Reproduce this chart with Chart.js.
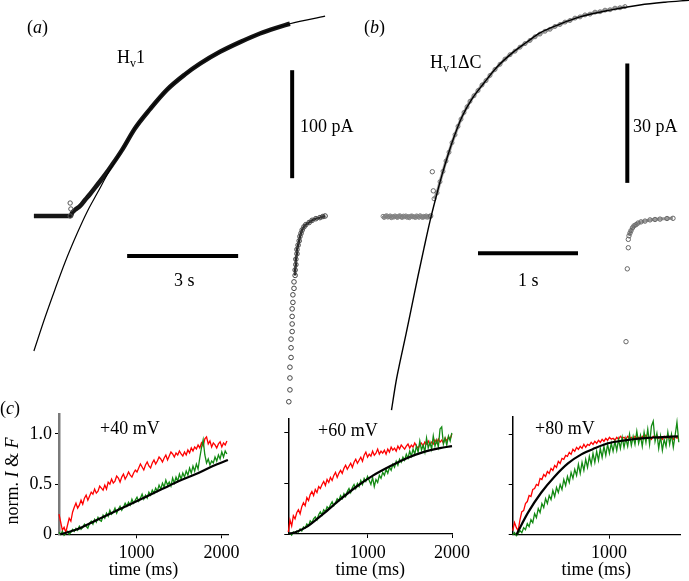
<!DOCTYPE html>
<html>
<head>
<meta charset="utf-8">
<script src="https://cdn.jsdelivr.net/npm/chart.js@4.4.0/dist/chart.umd.min.js"></script>
<style>
  html, body { margin: 0; padding: 0; background: #fff; }
  #page { position: relative; width: 689px; height: 581px; overflow: hidden; font-family: "Liberation Serif", "Times New Roman", serif; color: #000; }
  canvas { position: absolute; }
  .lbl { position: absolute; font-size: 18px; line-height: 18px; white-space: nowrap; }
  .sub { font-size: 12px; position: relative; top: 4px; }
</style>
</head>
<body>
<div id="page">
  <canvas id="chartA" width="340" height="420" style="left:0;top:0"></canvas>
  <canvas id="chartB" width="349" height="420" style="left:340px;top:0"></canvas>
  <canvas id="chartC1" width="250" height="181" style="left:0;top:400px"></canvas>
  <canvas id="chartC2" width="240" height="181" style="left:240px;top:400px"></canvas>
  <canvas id="chartC3" width="229" height="181" style="left:460px;top:400px"></canvas>

  <div class="lbl" style="left:27px;top:18px">(<i>a</i>)</div>
  <div class="lbl" style="left:117px;top:48px">H<span class="sub">v</span>1</div>
  <div class="lbl" style="left:300px;top:117px">100 pA</div>
  <div class="lbl" style="left:174px;top:271px">3 s</div>

  <div class="lbl" style="left:364px;top:18px">(<i>b</i>)</div>
  <div class="lbl" style="left:430px;top:53px">H<span class="sub">v</span>1ΔC</div>
  <div class="lbl" style="left:633px;top:117px">30 pA</div>
  <div class="lbl" style="left:518px;top:271px">1 s</div>

  <div class="lbl" style="left:0;top:399px">(<i>c</i>)</div>
  <div class="lbl" style="left:100px;top:419px">+40 mV</div>
  <div class="lbl" style="left:318px;top:421px">+60 mV</div>
  <div class="lbl" style="left:535px;top:419px">+80 mV</div>
  <div class="lbl" style="left:-32px;top:472px;width:88px;text-align:center;transform:rotate(-90deg)">norm. <i>I</i> &amp; <i>F</i></div>
</div>

<script>
// ---- panel (a): Hv1, time in s, current in pA ----
const fitA_t  = [-1.03, -0.73, -0.46, -0.19, 0.14, 0.41, 0.68, 1.03, 1.35, 1.70, 2.11, 2.57, 3.05, 3.46, 4.00, 4.54, 5.08, 5.89, 6.84];
const fitA_pA = [-125, -94, -68, -43, -16, 4, 21, 43, 61, 81, 99, 117, 131, 141, 152, 161, 169, 178, 185];

const traceA_t  = [-1.03, -0.50, -0.03, 0.00, 0.08, 0.22, 0.35, 0.49, 0.68, 0.89, 1.08, 1.35, 1.70, 2.11, 2.57, 3.05, 3.46, 4.00, 4.54, 5.08, 5.50, 5.89];
const traceA_pA = [0, 0, 0, 2.8, 5.6, 9.3, 14.8, 20.4, 28.7, 38.0, 47.2, 61, 81, 99, 117, 131, 141, 152, 161, 169, 174, 178];

const onsetA_t  = [-0.05, -0.03, -0.05];
const onsetA_pA = [12, 6.5, 0];

const tailA_t  = [5.86, 5.89, 5.89, 5.89, 5.92, 5.92, 5.92, 5.95, 5.95, 5.95, 5.95, 5.97, 5.97, 6.00, 6.00, 6.03, 6.03, 6.05, 6.05, 6.08, 6.08, 6.11, 6.14, 6.16, 6.19, 6.22, 6.27, 6.32, 6.41, 6.49, 6.59, 6.70, 6.78, 6.84];
const tailA_pA = [-172, -161, -150, -140, -131, -122, -114, -107, -100, -93, -86, -80, -73, -67, -61, -55, -50, -45, -40, -35, -31, -27, -23, -19, -16, -13, -10, -8, -6, -4, -2.5, -1.5, -0.5, 0];

const barA_v_t = [5.95, 5.95], barA_v_pA = [35, 135];     // 100 pA
const barA_h_t = [1.49, 4.49], barA_h_pA = [-37, -37];    // 3 s

// ---- panel (b): Hv1dC ----
const fitB_t  = [-0.385, -0.34, -0.30, -0.24, -0.18, -0.12, -0.06, 0, 0.06, 0.12, 0.18, 0.24, 0.32, 0.42, 0.54, 0.67, 0.82, 0.97, 1.10, 1.30, 1.50, 1.80, 2.10, 2.35, 2.59];
const fitB_pA = [-48.6, -41.5, -36.5, -29.5, -22.2, -14.9, -7.9, -1.1, 4.9, 10.5, 15.5, 20.0, 25.1, 29.6, 33.6, 37.6, 41.1, 43.9, 46.2, 48.4, 50.2, 51.9, 53.2, 53.9, 54.4];

const baseB_start = -0.47, baseB_step = 0.012;
const baseB_pA = [0.1, -0.2, 0.1, 0.25, -0.1, 0.0, 0.2, -0.25, 0.05, -0.1, 0.2, 0.0, -0.2, 0.1, 0.25, -0.05, -0.2, 0.15, 0.0, 0.2,
  -0.15, 0.05, -0.25, 0.1, 0.2, -0.05, 0.0, -0.2, 0.2, 0.05, -0.15, 0.25, 0.0, -0.2, 0.1, -0.05, 0.2, -0.15, 0.05, 0.0];

const riseB_t  = [0.04, 0.07, 0.10, 0.13, 0.16, 0.19, 0.22, 0.25, 0.28, 0.31, 0.34, 0.37, 0.40, 0.44, 0.48, 0.52, 0.56, 0.60, 0.65, 0.70, 0.75, 0.80, 0.85, 0.90, 0.95, 1.00, 1.05, 1.10, 1.15, 1.20, 1.25, 1.30, 1.35, 1.40, 1.45, 1.50, 1.55, 1.60, 1.65, 1.70, 1.75, 1.80, 1.85, 1.90, 1.95];
const riseB_pA = [4.5, 6.0, 8.8, 11.4, 14.0, 16.2, 18.6, 20.6, 22.7, 24.5, 26.2, 27.6, 29.0, 30.4, 31.7, 33.1, 34.2, 35.5, 37.0, 38.3, 39.6, 40.7, 41.6, 42.6, 43.5, 44.3, 45.2, 45.9, 46.6, 47.1, 47.8, 48.3, 48.9, 49.3, 49.9, 50.2, 50.7, 50.9, 51.4, 51.5, 51.9, 52.0, 52.4, 52.5, 52.8];

const onsetB_t  = [0.023, 0.033, 0.007];
const onsetB_pA = [11.3, 6.5, 0.2];

const tailB_t  = [1.96, 1.973, 1.983, 1.983, 1.99, 2.00, 2.01, 2.025, 2.04, 2.06, 2.08, 2.11, 2.15, 2.20, 2.25, 2.30, 2.37, 2.43];
const tailB_pA = [-31.4, -13.1, -7.8, -5.7, -4.8, -4.1, -3.5, -2.8, -2.3, -2.0, -1.6, -1.3, -1.1, -0.8, -0.7, -0.6, -0.45, -0.4];

const barB_v_t = [1.973, 1.973], barB_v_pA = [8.5, 38.5];  // 30 pA
const barB_h_t = [0.48, 1.48], barB_h_pA = [-9.2, -9.2];   // 1 s

// ---- panel (c): normalised current (red) and fluorescence (green), time in ms ----
const yTicksC = [0, 0.5, 1.0];

const c1Start = 85, c1Step = 20;
const c1XTicks = [1000, 2000];
const c1Red = [0.20, 0.12, 0.04, 0.07, 0.02, 0.09, 0.16, 0.13, 0.22, 0.27, 0.31, 0.26, 0.29, 0.34, 0.30, 0.36, 0.39, 0.34, 0.38, 0.42,
  0.40, 0.45, 0.41, 0.43, 0.48, 0.46, 0.44, 0.49, 0.45, 0.52, 0.50, 0.55, 0.51, 0.53, 0.58, 0.56, 0.52, 0.57, 0.60, 0.55,
  0.58, 0.62, 0.59, 0.57, 0.61, 0.64, 0.62, 0.66, 0.70, 0.67, 0.64, 0.69, 0.72, 0.68, 0.66, 0.71, 0.74, 0.70, 0.73, 0.77,
  0.75, 0.72, 0.76, 0.79, 0.74, 0.78, 0.82, 0.80, 0.77, 0.81, 0.79, 0.83, 0.80, 0.78, 0.82, 0.79, 0.84, 0.81, 0.86, 0.83,
  0.87, 0.85, 0.89, 0.86, 0.91, 0.88, 0.95, 0.97, 0.90, 0.93, 0.87, 0.91, 0.89, 0.86, 0.90, 0.92, 0.87, 0.91, 0.89, 0.93];
const c1Green = [0.02, 0.00, 0.03, -0.01, 0.01, 0.03, 0.00, 0.02, 0.05, 0.03, 0.06, 0.04, 0.08, 0.05, 0.07, 0.10, 0.08, 0.06, 0.11, 0.13,
  0.10, 0.15, 0.12, 0.17, 0.14, 0.13, 0.19, 0.16, 0.21, 0.18, 0.24, 0.20, 0.22, 0.26, 0.21, 0.25, 0.28, 0.24, 0.27, 0.31,
  0.28, 0.32, 0.29, 0.35, 0.31, 0.34, 0.37, 0.33, 0.36, 0.40, 0.35, 0.39, 0.36, 0.42, 0.39, 0.44, 0.41, 0.46, 0.43, 0.49,
  0.45, 0.51, 0.47, 0.54, 0.49, 0.52, 0.48, 0.56, 0.51, 0.57, 0.53, 0.60, 0.55, 0.61, 0.57, 0.63, 0.59, 0.66, 0.61, 0.68,
  0.63, 0.70, 0.65, 0.76, 0.86, 0.94, 0.79, 0.71, 0.75, 0.69, 0.73, 0.71, 0.77, 0.73, 0.79, 0.75, 0.82, 0.77, 0.83, 0.80];
const c1Fit_t = [100, 300, 500, 700, 900, 1100, 1300, 1500, 1700, 1900, 2077];
const c1Fit   = [0, 0.05, 0.13, 0.21, 0.29, 0.37, 0.45, 0.53, 0.60, 0.68, 0.74];

const c2Start = 58, c2Step = 20;
const c2XTicks = [1000, 2000];
const c2Red = [0.02, 0.14, 0.08, 0.18, 0.15, 0.21, 0.24, 0.20, 0.27, 0.31, 0.28, 0.36, 0.33, 0.39, 0.42, 0.38, 0.44, 0.41, 0.47, 0.45,
  0.49, 0.52, 0.48, 0.54, 0.51, 0.56, 0.53, 0.58, 0.61, 0.56, 0.60, 0.63, 0.60, 0.65, 0.68, 0.64, 0.67, 0.70, 0.66, 0.71,
  0.74, 0.70, 0.73, 0.76, 0.72, 0.78, 0.81, 0.76, 0.79, 0.77, 0.82, 0.78, 0.80, 0.84, 0.79, 0.82, 0.80, 0.83, 0.79, 0.84,
  0.81, 0.86, 0.83, 0.85, 0.82, 0.87, 0.84, 0.88, 0.86, 0.84, 0.87, 0.89, 0.85, 0.88, 0.86, 0.90, 0.87, 0.85, 0.88, 0.90,
  0.87, 0.91, 0.89, 0.92, 0.88, 0.91, 0.89, 0.93, 0.90, 0.94, 0.91, 0.93, 0.90, 0.95, 0.92, 0.96, 0.94, 0.99];
const c2Green = [0.00, 0.01, -0.01, 0.02, 0.01, 0.03, 0.02, 0.05, 0.03, 0.07, 0.06, 0.10, 0.08, 0.13, 0.11, 0.15, 0.17, 0.14, 0.19, 0.22,
  0.19, 0.24, 0.22, 0.27, 0.25, 0.29, 0.32, 0.28, 0.31, 0.35, 0.33, 0.38, 0.35, 0.40, 0.37, 0.42, 0.45, 0.41, 0.46, 0.49,
  0.45, 0.50, 0.47, 0.53, 0.49, 0.55, 0.52, 0.57, 0.53, 0.49, 0.56, 0.47, 0.54, 0.51, 0.58, 0.55, 0.61, 0.58, 0.64, 0.60,
  0.66, 0.63, 0.69, 0.66, 0.72, 0.68, 0.74, 0.71, 0.76, 0.73, 0.79, 0.75, 0.82, 0.77, 0.84, 0.79, 0.87, 0.81, 0.92, 0.83,
  0.88, 0.81, 0.95, 0.85, 0.91, 0.84, 0.97, 0.87, 0.93, 0.86, 1.04, 1.06, 0.89, 0.95, 0.88, 0.97, 0.92, 1.00];
const c2Fit_t = [58, 150, 276, 473, 671, 869, 1066, 1264, 1463, 1659, 1857, 2000];
const c2Fit   = [0, 0.02, 0.07, 0.20, 0.34, 0.47, 0.58, 0.67, 0.75, 0.81, 0.85, 0.87];

const c3Start = 50, c3Step = 18;
const c3XTicks = [1000];
const c3Red = [0.04, 0.12, 0.07, 0.04, 0.15, 0.23, 0.24, 0.31, 0.33, 0.39, 0.38, 0.45, 0.46, 0.50, 0.49, 0.56, 0.55, 0.60, 0.58, 0.63,
  0.61, 0.66, 0.64, 0.69, 0.67, 0.73, 0.71, 0.76, 0.75, 0.79, 0.78, 0.82, 0.80, 0.85, 0.83, 0.87, 0.85, 0.88, 0.86, 0.90,
  0.87, 0.90, 0.89, 0.92, 0.90, 0.93, 0.91, 0.94, 0.92, 0.95, 0.93, 0.96, 0.94, 0.97, 0.95, 0.96, 0.94, 0.97, 0.95, 0.98,
  0.96, 0.97, 0.95, 0.98, 0.96, 0.97, 0.95, 0.98, 0.96, 0.97, 0.95, 0.98, 0.96, 0.99, 0.96, 0.97, 0.95, 0.98, 0.96, 0.99,
  0.96, 0.97, 0.95, 0.98, 0.96, 0.99, 0.96, 0.97, 0.95, 0.98, 0.96, 0.97];
const c3Green = [0.00, 0.02, -0.01, 0.01, 0.04, 0.02, 0.07, 0.05, 0.11, 0.08, 0.15, 0.12, 0.21, 0.17, 0.26, 0.22, 0.31, 0.27, 0.36, 0.31,
  0.39, 0.35, 0.44, 0.38, 0.47, 0.42, 0.50, 0.45, 0.55, 0.49, 0.58, 0.52, 0.62, 0.56, 0.65, 0.59, 0.70, 0.61, 0.72, 0.64,
  0.75, 0.67, 0.78, 0.70, 0.81, 0.72, 0.83, 0.74, 0.86, 0.77, 0.88, 0.79, 0.90, 0.81, 0.91, 0.83, 0.93, 0.84, 0.95, 0.86,
  0.97, 0.87, 0.96, 0.88, 1.00, 0.89, 0.98, 0.90, 1.03, 0.91, 0.99, 0.88, 1.02, 0.92, 1.05, 0.90, 1.08, 1.13, 0.93, 1.01,
  0.86, 0.98, 0.84, 0.95, 0.88, 1.02, 0.90, 1.00, 0.87, 0.99, 1.12, 0.92];
const c3Fit_t = [86, 201, 332, 464, 595, 727, 858, 990, 1154, 1318, 1483, 1680];
const c3Fit   = [0, 0.22, 0.42, 0.58, 0.71, 0.80, 0.86, 0.91, 0.94, 0.96, 0.97, 0.98];

// ---------------------------------------------------------------
Chart.defaults.font.family = '"Liberation Serif", "Times New Roman", serif';
Chart.defaults.font.size = 18;
Chart.defaults.color = '#000';

function pts(xs, ys) {
    return xs.map((x, i) => ({x: x, y: ys[i]}));
}

function series(start, step, ys) {
    return ys.map((y, i) => ({x: start + i * step, y: y}));
}

function line(data, color, width, extra) {
    return Object.assign({
        data: data, showLine: true, borderColor: color, borderWidth: width,
        pointRadius: 0, clip: false
    }, extra || {});
}

function circles(data, color, radius, extra) {
    return Object.assign({
        data: data, showLine: false, pointStyle: 'circle', pointRadius: radius,
        pointBorderColor: color, pointBackgroundColor: 'rgba(255,255,255,0)',
        pointBorderWidth: 1, clip: false
    }, extra || {});
}

function panelOptions(xmin, xmax, ymin, ymax) {
    return {
        responsive: false,
        animation: false,
        events: [],
        layout: {autoPadding: false, padding: 0},
        plugins: {legend: {display: false}, tooltip: {enabled: false}},
        scales: {
            x: {type: 'linear', display: false, min: xmin, max: xmax},
            y: {type: 'linear', display: false, min: ymin, max: ymax}
        }
    };
}

// panel (a)
new Chart(document.getElementById('chartA'), {
    type: 'scatter',
    data: {
        datasets: [
            line(pts(fitA_t, fitA_pA), '#000', 1.2, {cubicInterpolationMode: 'monotone', order: 0}),
            line(pts(traceA_t, traceA_pA), '#161616', 4.5, {cubicInterpolationMode: 'monotone', order: 2}),
            circles(pts(onsetA_t, onsetA_pA), '#555', 2.2, {order: 1}),
            line(pts(tailA_t.slice(15), tailA_pA.slice(15)), '#2a2a2a', 2.5, {cubicInterpolationMode: 'monotone', order: 2}),
            circles(pts(tailA_t, tailA_pA), '#444', 2.3, {order: 1}),
            line(pts(barA_v_t, barA_v_pA), '#000', 4, {order: 0}),
            line(pts(barA_h_t, barA_h_pA), '#000', 4, {order: 0})
        ]
    },
    options: panelOptions(-1.946, 7.243, -188.9, 200)
});

// panel (b)
const baseB = series(baseB_start, baseB_step, baseB_pA);
new Chart(document.getElementById('chartB'), {
    type: 'scatter',
    data: {
        datasets: [
            line(pts(fitB_t, fitB_pA), '#000', 1.4, {cubicInterpolationMode: 'monotone', order: 0}),
            line(baseB, '#a8a8a8', 3, {order: 3}),
            circles(baseB, '#808080', 2, {order: 2}),
            line(pts(riseB_t, riseB_pA), '#a0a0a0', 3, {cubicInterpolationMode: 'monotone', order: 3}),
            circles(pts(riseB_t, riseB_pA), '#777', 2, {order: 2}),
            circles(pts(onsetB_t, onsetB_pA), '#666', 2.2, {order: 1}),
            line(pts(tailB_t.slice(4), tailB_pA.slice(4)), '#9a9a9a', 3, {cubicInterpolationMode: 'monotone', order: 3}),
            circles(pts(tailB_t, tailB_pA), '#666', 2.2, {order: 2}),
            line(pts(barB_v_t, barB_v_pA), '#000', 4, {order: 0}),
            line(pts(barB_h_t, barB_h_pA), '#000', 4, {order: 0})
        ]
    },
    options: panelOptions(-0.9, 2.59, -51.08, 54.45)
});

// panel (c)
function cOptions(o) {
    const grid = {display: true, drawOnChartArea: false, drawTicks: true, tickLength: 4, color: '#000', lineWidth: 1};
    return {
        responsive: false,
        animation: false,
        events: [],
        layout: {autoPadding: false, padding: {top: o.padTop, right: o.padRight, left: 0, bottom: 0}},
        plugins: {legend: {display: false}, tooltip: {enabled: false}},
        scales: {
            x: {
                type: 'linear', min: o.xmin, max: o.xmax,
                afterFit: s => { s.height = o.xh; },
                afterBuildTicks: s => { s.ticks = o.xticks.map(v => ({value: v})); },
                border: {display: true, color: '#000', width: 1.3},
                grid: grid,
                ticks: {padding: 4, maxRotation: 0, autoSkip: false, callback: v => String(v)},
                title: {display: true, text: 'time (ms)', padding: {top: 0, bottom: 0}}
            },
            y: {
                type: 'linear', min: 0, max: o.ymax,
                afterFit: s => { s.width = o.yw; },
                afterBuildTicks: s => { s.ticks = yTicksC.map(v => ({value: v})); },
                border: {display: true, color: o.yColor, width: o.yWidth},
                grid: grid,
                ticks: {display: o.yLabels, padding: 3, autoSkip: false,
                        callback: v => (v === 0 ? '0' : v.toFixed(1))}
            }
        }
    };
}

function cDatasets(red, green, fit) {
    return [
        line(fit, '#000', 2.2, {cubicInterpolationMode: 'monotone', order: 0}),
        line(green, '#138a13', 1.3, {order: 1}),
        line(red, '#ff0000', 1.3, {order: 2})
    ];
}

new Chart(document.getElementById('chartC1'), {
    type: 'scatter',
    data: {datasets: cDatasets(series(c1Start, c1Step, c1Red), series(c1Start, c1Step, c1Green), pts(c1Fit_t, c1Fit))},
    options: cOptions({xmin: 85, xmax: 2078, ymax: 1.2, padTop: 13, padRight: 22, xh: 46.7, yw: 59, xticks: c1XTicks,
                       yColor: '#7a7a7a', yWidth: 2.5, yLabels: true})
});

new Chart(document.getElementById('chartC2'), {
    type: 'scatter',
    data: {datasets: cDatasets(series(c2Start, c2Step, c2Red), series(c2Start, c2Step, c2Green), pts(c2Fit_t, c2Fit))},
    options: cOptions({xmin: 58, xmax: 2000, ymax: 1.145, padTop: 18.3, padRight: 28, xh: 47, yw: 48.3, xticks: c2XTicks,
                       yColor: '#000', yWidth: 1.5, yLabels: false})
});

new Chart(document.getElementById('chartC3'), {
    type: 'scatter',
    data: {datasets: cDatasets(series(c3Start, c3Step, c3Red), series(c3Start, c3Step, c3Green), pts(c3Fit_t, c3Fit))},
    options: cOptions({xmin: 50, xmax: 1700, ymax: 1.172, padTop: 17, padRight: 9, xh: 46.3, yw: 52.7, xticks: c3XTicks,
                       yColor: '#000', yWidth: 1.5, yLabels: false})
});
</script>
</body>
</html>
